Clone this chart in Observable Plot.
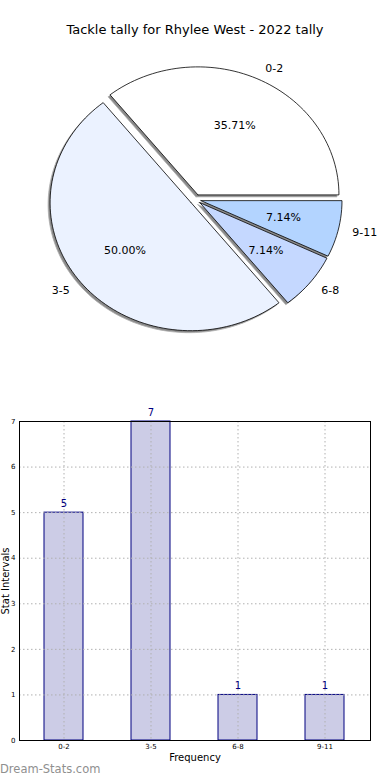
<!DOCTYPE html>
<html>
<head>
<meta charset="utf-8">
<script src="https://cdn.jsdelivr.net/npm/d3@7"></script>
<script src="https://cdn.jsdelivr.net/npm/@observablehq/plot@0.6"></script>
<style>
  html, body { margin: 0; padding: 0; background: #fff; }
  body { width: 390px; height: 780px; position: relative; overflow: hidden; font-family: "DejaVu Sans", sans-serif; }
  #title { height: 50px; box-sizing: border-box; padding-top: 22px; font-size: 13px; line-height: 16px; text-align: center; color: #000; }
  #wm { position: absolute; left: 0; top: 762px; font-size: 11.5px; color: #8f8f8f; font-family: "DejaVu Sans", sans-serif; }
  #ylab { position: absolute; left: 6px; top: 581px; width: 0; height: 0; }
  #ylab span { position: absolute; left: 0; top: 0; transform: translate(-50%, -50%) rotate(-90deg); white-space: nowrap; font-size: 10px; line-height: 12px; color: #000; }
  svg { display: block; }
</style>
</head>
<body>
<div id="title">Tackle tally for Rhylee West - 2022 tally</div>
<div id="pie"></div>
<div id="bar"></div>
<div id="ylab"><span>Stat Intervals</span></div>
<div id="wm">Dream-Stats.com</div>
<script>
const categories = ["0-2", "3-5", "6-8", "9-11"];
const pieValues = [5, 7, 1, 1];
const pieColors = ["#ffffff", "#ebf2ff", "#c5d8ff", "#b3d4ff"];
const barValues = [5, 7, 1, 1];
const yTicks = [0, 1, 2, 3, 4, 5, 6, 7];
const explode = 0.04;

// ---- pie geometry (data units, radius = 1) ----
const total = d3.sum(pieValues);
let acc = 0;
const slices = pieValues.map((v, i) => {
  const a0 = acc / total * 2 * Math.PI;
  acc += v;
  const a1 = acc / total * 2 * Math.PI;
  const mid = (a0 + a1) / 2;
  const ox = explode * Math.cos(mid), oy = explode * Math.sin(mid);
  return {label: categories[i], value: v, color: pieColors[i], a0, a1, mid, ox, oy,
          pct: (v / total * 100).toFixed(2) + "%"};
});
const polyPts = [];
slices.forEach(s => {
  polyPts.push({label: s.label, color: s.color, x: s.ox, y: s.oy});
  const n = Math.max(4, Math.ceil((s.a1 - s.a0) / (Math.PI / 90)));
  for (let k = 0; k <= n; k++) {
    const t = s.a0 + (s.a1 - s.a0) * k / n;
    polyPts.push({label: s.label, color: s.color, x: s.ox + Math.cos(t), y: s.oy + Math.sin(t)});
  }
  polyPts.push({label: s.label, color: s.color, x: s.ox, y: s.oy});
});
const outerLabels = slices.map(s => ({text: s.label, x: s.ox + 1.1 * Math.cos(s.mid), y: s.oy + 1.1 * Math.sin(s.mid)}));
const pctLabels = slices.map(s => ({text: s.pct, x: s.ox + 0.6 * Math.cos(s.mid), y: s.oy + 0.6 * Math.sin(s.mid)}));

const pie = Plot.plot({
  width: 390, height: 330,
  margin: 0,
  style: {fontFamily: "DejaVu Sans, sans-serif", background: "transparent"},
  x: {domain: [-1, 1], range: [54, 336], axis: null},
  y: {domain: [-1, 1], range: [277, 21], axis: null},
  color: {type: "identity"},
  marks: [
    Plot.line(polyPts, {x: "x", y: "y", z: "label", fill: "#8a8a8a", stroke: "#b0b0b0", strokeWidth: 0.8, dx: -2, dy: 2, curve: "linear"}),
    Plot.line(polyPts, {x: "x", y: "y", z: "label", fill: "color", stroke: "#000", strokeWidth: 0.8, curve: "linear"}),
    Plot.text(pctLabels, {x: "x", y: "y", text: "text", fontSize: 11, fill: "#000"}),
    Plot.text(outerLabels.filter(d => d.x >= 0), {x: "x", y: "y", text: "text", textAnchor: "start", fontSize: 11, fill: "#000"}),
    Plot.text(outerLabels.filter(d => d.x < 0), {x: "x", y: "y", text: "text", textAnchor: "end", fontSize: 11, fill: "#000"})
  ]
});
document.getElementById("pie").append(pie);

// ---- bar chart ----
const barData = categories.map((c, i) => ({cat: c, value: barValues[i]}));
const gridStyle = {stroke: "#b0b0b0", strokeOpacity: 1, strokeWidth: 1, strokeDasharray: "1.5,2.5"};
const bar = Plot.plot({
  width: 390, height: 400,
  marginTop: 41, marginBottom: 40, marginLeft: 19, marginRight: 20,
  style: {fontFamily: "DejaVu Sans, sans-serif", background: "transparent", color: "#000"},
  x: {domain: categories, paddingInner: 0.55, paddingOuter: 0.275, label: null},
  y: {domain: [0, 7], label: null},
  marks: [
    Plot.barY(barData, {x: "cat", y: "value", fill: "#ccccE6", stroke: "#000080", strokeWidth: 1}),
    Plot.gridY(yTicks.slice(1, -1), gridStyle),
    Plot.gridX(categories, gridStyle),
    Plot.axisY({ticks: yTicks, tickFormat: d3.format("d"), tickSize: 0, tickPadding: 4, fontSize: 7, label: null}),
    Plot.axisX({tickSize: 0, tickPadding: 4, fontSize: 7, label: null}),
    Plot.frame({stroke: "#000", strokeWidth: 1}),
    Plot.text(barData, {x: "cat", y: "value", text: d => String(d.value), dy: -9, fill: "#000080", fontSize: 10}),
    Plot.text(["Frequency"], {frameAnchor: "bottom", dy: 20, fontSize: 10, fill: "#000"})
  ]
});
document.getElementById("bar").append(bar);
</script>
</body>
</html>
